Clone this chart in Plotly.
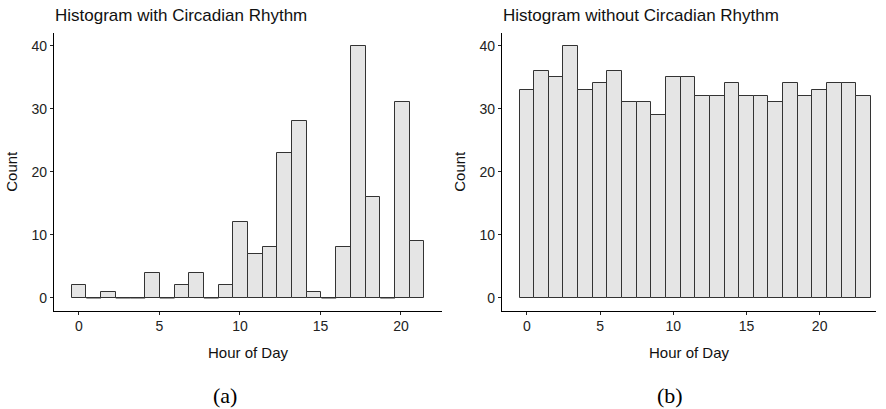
import numpy as np
import plotly.graph_objects as go

# ---- data ----
counts_with = [2, 0, 1, 0, 0, 4, 0, 2, 4, 0, 2, 12, 7, 8, 23, 28, 1, 0, 8, 40, 16, 0, 31, 9]
counts_without = [33, 36, 35, 40, 33, 34, 36, 31, 31, 29, 35, 35, 32, 32, 34, 32, 32, 31, 34, 32, 33, 34, 34, 32]
hour_min_with, hour_max_with = 0, 21
hour_min_without, hour_max_without = 0, 23
title_a = "Histogram with Circadian Rhythm"
title_b = "Histogram without Circadian Rhythm"
x_title = "Hour of Day"
y_title = "Count"
x_ticks = [0, 5, 10, 15, 20]
y_ticks = [0, 10, 20, 30, 40]

W, H = 886, 409
SANS = "Liberation Sans, Arial, Helvetica, sans-serif"
SERIF = "Liberation Serif, Times New Roman, serif"
OUTLINE = "#333333"

# bin centres (ggplot-style bins centred on data range)
n_a = len(counts_with)
centers_a = np.linspace(hour_min_with, hour_max_with, n_a)
bw_a = (hour_max_with - hour_min_with) / (n_a - 1)
n_b = len(counts_without)
centers_b = np.linspace(hour_min_without, hour_max_without, n_b)
bw_b = (hour_max_without - hour_min_without) / (n_b - 1)

fig = go.Figure()
bar_style = dict(marker=dict(color="#E5E5E5", line=dict(color=OUTLINE, width=1)),
                 showlegend=False, hoverinfo="x+y")
fig.add_trace(go.Bar(x=centers_a, y=counts_with, width=bw_a, xaxis="x", yaxis="y", **bar_style))
fig.add_trace(go.Bar(x=centers_b, y=counts_without, width=bw_b, xaxis="x2", yaxis="y2", **bar_style))


# zero-count bins are drawn as a flat outline at 0 (plotly skips zero-height bars)
def zero_segments(centers, counts, bw):
    xs, ys = [], []
    for c, v in zip(centers, counts):
        if v == 0:
            xs += [c - bw / 2, c + bw / 2, None]
            ys += [0, 0, None]
    return xs, ys


zx, zy = zero_segments(centers_a, counts_with, bw_a)
if zx:
    fig.add_trace(go.Scatter(x=zx, y=zy, mode="lines", line=dict(color=OUTLINE, width=1.2),
                             xaxis="x", yaxis="y", showlegend=False, hoverinfo="skip"))
zx, zy = zero_segments(centers_b, counts_without, bw_b)
if zx:
    fig.add_trace(go.Scatter(x=zx, y=zy, mode="lines", line=dict(color=OUTLINE, width=1.2),
                             xaxis="x2", yaxis="y2", showlegend=False, hoverinfo="skip"))


def px_x(p):
    return p / W


def px_y(p):
    return 1 - p / H


plot_top, plot_bot = 33, 310.5
axis_common = dict(showline=True, linecolor="black", linewidth=1.3, ticks="outside",
                   ticklen=3, tickcolor="#222222", tickwidth=1.1, showgrid=False, zeroline=False,
                   tickfont=dict(family=SANS, size=14, color="#222222"),
                   title_font=dict(family=SANS, size=15, color="#111111"))

# x range with 5% expansion
ra_lo = hour_min_with - bw_a / 2
ra_hi = hour_max_with + bw_a / 2
ea = (ra_hi - ra_lo) * 0.05
rb_lo = hour_min_without - bw_b / 2
rb_hi = hour_max_without + bw_b / 2
eb = (rb_hi - rb_lo) * 0.05

fig.update_layout(
    width=W, height=H,
    margin=dict(l=0, r=0, t=0, b=0),
    paper_bgcolor="white", plot_bgcolor="white",
    bargap=0,
    xaxis=dict(domain=[px_x(54), px_x(442)], range=[ra_lo - ea, ra_hi + ea], tickvals=x_ticks,
               anchor="y", title=dict(text=x_title, standoff=14), **axis_common),
    yaxis=dict(domain=[px_y(plot_bot), px_y(plot_top)], range=[-2, 42], tickvals=y_ticks,
               anchor="x", title=dict(text=y_title, standoff=10), **axis_common),
    xaxis2=dict(domain=[px_x(502), px_x(876)], range=[rb_lo - eb, rb_hi + 0.35], tickvals=x_ticks,
                anchor="y2", title=dict(text=x_title, standoff=14), **axis_common),
    yaxis2=dict(domain=[px_y(plot_bot), px_y(plot_top)], range=[-2, 42], tickvals=y_ticks,
                anchor="x2", title=dict(text=y_title, standoff=10), **axis_common),
    annotations=[
        dict(text=title_a, x=px_x(53), y=px_y(16), xref="paper", yref="paper", xanchor="left",
             yanchor="middle", showarrow=False,
             font=dict(family=SANS, size=17, color="#111111")),
        dict(text=title_b, x=px_x(501), y=px_y(16), xref="paper", yref="paper", xanchor="left",
             yanchor="middle", showarrow=False,
             font=dict(family=SANS, size=17, color="#111111")),
        dict(text="(a)", x=px_x(225), y=px_y(395), xref="paper", yref="paper", xanchor="center",
             yanchor="middle", showarrow=False,
             font=dict(family=SERIF, size=22, color="black")),
        dict(text="(b)", x=px_x(670), y=px_y(395), xref="paper", yref="paper", xanchor="center",
             yanchor="middle", showarrow=False,
             font=dict(family=SERIF, size=22, color="black")),
    ],
)

fig.write_html("out.html", config={"displayModeBar": False},
               post_script="document.body.style.margin='0';document.body.style.overflow='hidden';")
